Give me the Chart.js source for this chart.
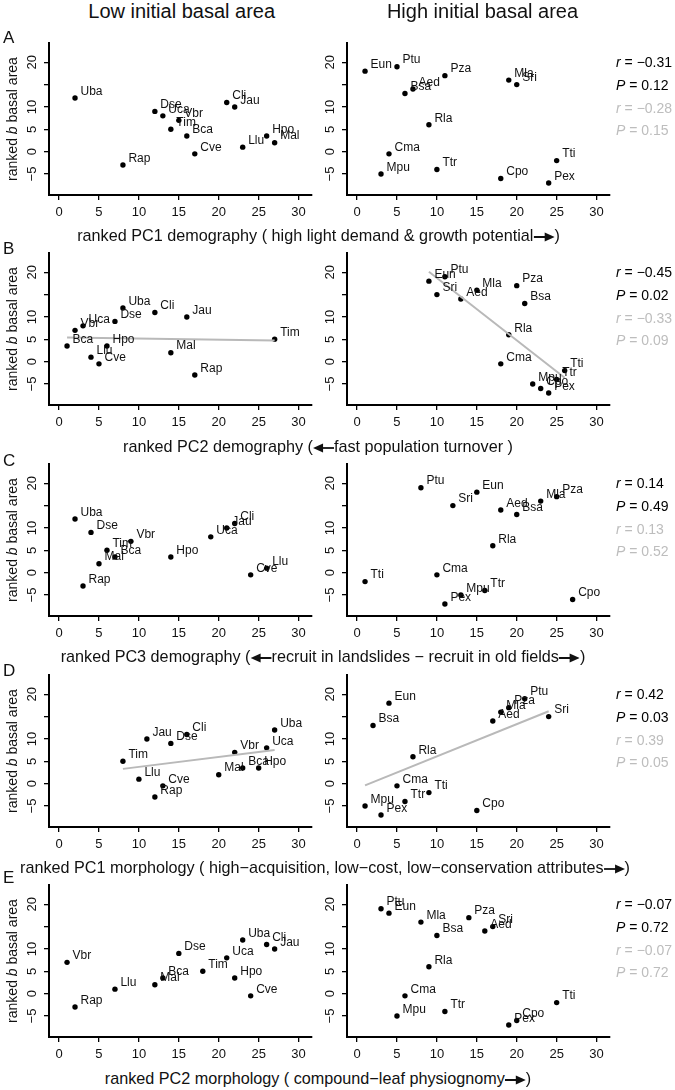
<!DOCTYPE html>
<html>
<head>
<meta charset="utf-8">
<script src="https://cdn.jsdelivr.net/npm/chart.js@4.4.0/dist/chart.umd.min.js"></script>
<style>
  html, body { margin: 0; padding: 0; background: #fff; }
  #fig { position: relative; width: 675px; height: 1090px; overflow: hidden;
         font-family: "Liberation Sans", Arial, Helvetica, sans-serif; color: #111; }
  #fig canvas { position: absolute; }
  .t { position: absolute; white-space: nowrap; line-height: 1; }
</style>
</head>
<body>
<div id="fig"></div>
<script>
// --- species and ranked b basal area (y, same in every row) ---
const lowSpecies = ['Uba', 'Cli', 'Jau', 'Dse', 'Uca', 'Vbr', 'Tim', 'Bca', 'Hpo', 'Mal', 'Llu', 'Cve', 'Rap'];
const lowB = [12, 11, 10, 9, 8, 7, 5, 3.5, 3.5, 2, 1, -0.5, -3];
const highSpecies = ['Ptu', 'Eun', 'Pza', 'Mla', 'Sri', 'Aed', 'Bsa', 'Rla', 'Cma', 'Tti', 'Ttr', 'Mpu', 'Cpo', 'Pex'];
const highB = [19, 18, 17, 16, 15, 14, 13, 6, -0.5, -2, -4, -5, -6, -7];

// --- ranked trait values (x) per row ---
const lowPC1dem = [2, 21, 22, 12, 13, 15, 14, 16, 26, 27, 23, 17, 8];
const highPC1dem = [5, 1, 11, 19, 20, 7, 6, 9, 4, 25, 10, 3, 18, 24];
const lowPC2dem = [8, 12, 16, 7, 3, 2, 27, 1, 6, 14, 4, 5, 17];
const highPC2dem = [11, 9, 20, 15, 10, 13, 21, 19, 18, 26, 25, 22, 23, 24];
const lowPC3dem = [2, 22, 21, 4, 19, 9, 6, 7, 14, 5, 26, 24, 3];
const highPC3dem = [8, 15, 25, 23, 12, 18, 20, 17, 10, 1, 16, 13, 27, 11];
const lowPC1mor = [27, 16, 11, 14, 26, 22, 8, 23, 25, 20, 10, 13, 12];
const highPC1mor = [21, 4, 19, 18, 24, 17, 2, 7, 5, 9, 6, 1, 15, 3];
const lowPC2mor = [23, 26, 27, 15, 21, 1, 18, 13, 22, 12, 7, 24, 2];
const highPC2mor = [3, 4, 14, 8, 17, 16, 10, 9, 6, 25, 11, 5, 20, 19];

// --- fitted lines (end points) ---
const fitPC2demLowX = [1, 27];
const fitPC2demLowY = [5.4, 4.7];
const fitPC2demHighX = [9, 26];
const fitPC2demHighY = [20.1, -3.6];
const fitPC1morLowX = [8, 27];
const fitPC1morLowY = [3.3, 7.5];
const fitPC1morHighX = [1, 24];
const fitPC1morHighY = [-0.4, 16.2];

// --- statistics text ---
const statR = ['−0.31', '−0.45', '0.14', '0.42', '−0.07'];
const statP = ['0.12', '0.02', '0.49', '0.03', '0.72'];
const statR2 = ['−0.28', '−0.33', '0.13', '0.39', '−0.07'];
const statP2 = ['0.15', '0.09', '0.52', '0.05', '0.72'];

// --- ticks ---
const xTickVals = [0, 5, 10, 15, 20, 25, 30];
const yTickVals = [-5, 0, 5, 10, 15, 20];
const yTickLabels = ['−5', '0', '5', '10', '', '20'];

const rowLetters = ['A', 'B', 'C', 'D', 'E'];
const xTitles = [
    'ranked PC1 demography ( high light demand &amp; growth potential{R})',
    'ranked PC2 demography ({L}fast population turnover )',
    'ranked PC3 demography ({L}recruit in landslides − recruit in old fields{R})',
    'ranked PC1 morphology ( high−acquisition, low−cost, low−conservation attributes{R})',
    'ranked PC2 morphology ( compound−leaf physiognomy{R})'
];

// layout
const FONT = '"Liberation Sans", Arial, Helvetica, sans-serif';
const X_MIN = -1.26, X_MAX = 31.68, Y_MIN = -9.7, Y_MAX = 24.3;
const PLOT_W = 263, PLOT_H = 152;
const COL_LEFT = [49, 347];
const ROW_STEP = 210.65;
const AX_W = 45, AX_H = 30, PAD_T = 20, PAD_R = 15;
const rowTop = i => Math.round(42.6 + i * ROW_STEP);

const fig = document.getElementById('fig');

function addText(html, x, baseline, size, align, extra) {
    const d = document.createElement('div');
    d.className = 't';
    d.innerHTML = html;
    d.style.fontSize = size + 'px';
    d.style.left = x + 'px';
    d.style.top = (baseline - 0.8465 * size) + 'px';
    if (align === 'center') d.style.transform = 'translateX(-50%)';
    if (extra) Object.assign(d.style, extra);
    fig.appendChild(d);
    return d;
}

function arrow(dir) {
    const shaft = dir === 'R' ? 'M0 6 H12' : 'M9 6 H21';
    const head = dir === 'R' ? '11,1.5 21,6 11,10.5' : '10,1.5 0,6 10,10.5';
    return '<svg width="21" height="12" style="vertical-align:-2px" viewBox="0 0 21 12">' +
        '<path d="' + shaft + '" stroke="#111" stroke-width="1.8"/>' +
        '<polygon points="' + head + '" fill="#111"/></svg>';
}

const pointLabels = {
    id: 'pointLabels',
    afterDatasetsDraw(chart) {
        const ds = chart.data.datasets[0];
        const meta = chart.getDatasetMeta(0);
        const ctx = chart.ctx;
        ctx.save();
        ctx.font = '12px ' + FONT;
        ctx.fillStyle = '#111';
        ctx.textAlign = 'left';
        ctx.textBaseline = 'alphabetic';
        meta.data.forEach((pt, i) => ctx.fillText(ds.names[i], pt.x + 5.5, pt.y - 3.3));
        ctx.restore();
    }
};

function makePanel(row, col, xs, ys, names, fitX, fitY) {
    const left = COL_LEFT[col];
    const top = rowTop(row);
    const W = PLOT_W + AX_W + PAD_R, H = PLOT_H + PAD_T + AX_H;
    const cv = document.createElement('canvas');
    cv.width = W; cv.height = H;
    cv.style.left = (left - AX_W) + 'px';
    cv.style.top = (top - PAD_T) + 'px';
    cv.style.width = W + 'px';
    cv.style.height = H + 'px';
    fig.appendChild(cv);

    const datasets = [{
        data: xs.map((x, i) => ({ x: x, y: ys[i] })),
        names: names,
        pointRadius: 2.7,
        pointBackgroundColor: '#000',
        pointBorderWidth: 0,
        showLine: false,
        order: 1
    }];
    if (fitX) {
        datasets.push({
            data: fitX.map((x, i) => ({ x: x, y: fitY[i] })),
            showLine: true,
            borderColor: '#b9b9b9',
            borderWidth: 2,
            pointRadius: 0,
            order: 0
        });
    }

    const gridOpts = { display: true, drawOnChartArea: false, drawTicks: true, tickLength: 5, color: '#000', lineWidth: 1.3 };
    const borderOpts = { display: true, color: '#000', width: 2 };

    new Chart(cv, {
        type: 'scatter',
        data: { datasets: datasets },
        options: {
            responsive: false,
            animation: false,
            events: [],
            layout: { padding: { top: PAD_T, right: PAD_R, left: 0, bottom: 0 } },
            plugins: { legend: { display: false }, tooltip: { enabled: false } },
            scales: {
                x: {
                    type: 'linear', min: X_MIN, max: X_MAX,
                    afterBuildTicks: s => { s.ticks = xTickVals.map(v => ({ value: v })); },
                    afterFit: s => { s.height = AX_H; },
                    grid: gridOpts,
                    border: borderOpts,
                    ticks: {
                        autoSkip: false, maxRotation: 0, padding: 4.5, color: '#111',
                        font: { family: FONT, size: 13 },
                        callback: v => String(v)
                    }
                },
                y: {
                    type: 'linear', min: Y_MIN, max: Y_MAX,
                    afterBuildTicks: s => { s.ticks = yTickVals.map(v => ({ value: v })); },
                    afterFit: s => { s.width = AX_W; },
                    grid: gridOpts,
                    border: borderOpts,
                    ticks: {
                        autoSkip: false, minRotation: 90, maxRotation: 90, crossAlign: 'center',
                        padding: 4.5, color: '#111',
                        font: { family: FONT, size: 13 },
                        callback: v => yTickLabels[yTickVals.indexOf(v)]
                    }
                }
            }
        },
        plugins: [pointLabels]
    });
}

const rows = [
    [lowPC1dem, highPC1dem, null, null, null, null],
    [lowPC2dem, highPC2dem, fitPC2demLowX, fitPC2demLowY, fitPC2demHighX, fitPC2demHighY],
    [lowPC3dem, highPC3dem, null, null, null, null],
    [lowPC1mor, highPC1mor, fitPC1morLowX, fitPC1morLowY, fitPC1morHighX, fitPC1morHighY],
    [lowPC2mor, highPC2mor, null, null, null, null]
];

rows.forEach((r, i) => {
    makePanel(i, 0, r[0], lowB, lowSpecies, r[2], r[3]);
    makePanel(i, 1, r[1], highB, highSpecies, r[4], r[5]);
});

// --- column headers ---
addText('Low initial basal area', 181.7, 18.3, 20, 'center');
addText('High initial basal area', 482.5, 18.3, 20, 'center');

// --- row texts ---
const letterBase = [43.3, 254, 466, 676.5, 883.5];
const titleCenter = [318.5, 318, 323, 325, 318];
rows.forEach((r, i) => {
    const top = rowTop(i);
    const unit = PLOT_H / (Y_MAX - Y_MIN);
    const y20 = top + (Y_MAX - 20) * unit;

    addText(rowLetters[i], 3, letterBase[i], 17);

    const html = xTitles[i].replace('{R}', arrow('R')).replace('{L}', arrow('L'));
    addText(html, titleCenter[i], 240.7 + i * ROW_STEP, 16.2, 'center');

    // y-axis title (left panels only)
    addText('ranked <i>b</i> basal area', 12.2 - 100, top + PLOT_H / 2 + 0.8465 * 14 - 7, 14, 'left',
        { width: '200px', textAlign: 'center', transform: 'rotate(-90deg)' });

    const sx = 616;
    addText('<i>r</i> = ' + statR[i], sx, y20 + 5, 14, 'left', { color: '#000' });
    addText('<i>P</i> = ' + statP[i], sx, y20 + 5 + 22.6, 14, 'left', { color: '#000' });
    addText('<i>r</i> = ' + statR2[i], sx, y20 + 5 + 45.2, 14, 'left', { color: '#bdbdbd' });
    addText('<i>P</i> = ' + statP2[i], sx, y20 + 5 + 67.8, 14, 'left', { color: '#bdbdbd' });
});
</script>
</body>
</html>
